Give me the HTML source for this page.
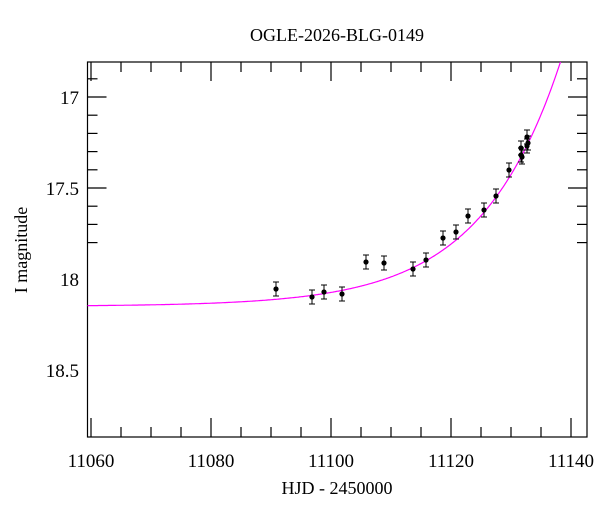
<!DOCTYPE html>
<html><head><meta charset="utf-8"><style>
body{margin:0;background:#fff;width:600px;height:512px;overflow:hidden}
text{font-family:"Liberation Serif",serif;fill:#000}
</style></head><body>
<svg id="s" width="600" height="512" xmlns="http://www.w3.org/2000/svg">
<text x="337" y="41" font-size="18" text-anchor="middle">OGLE-2026-BLG-0149</text>
<text x="337" y="494" font-size="18" text-anchor="middle">HJD - 2450000</text>
<text transform="translate(27,250) rotate(-90)" font-size="18" text-anchor="middle">I magnitude</text>
<g id="ax" stroke="#000" stroke-width="1.2" fill="none"></g>
<g font-size="19" text-anchor="middle">
<text x="91" y="467">11060</text><text x="211" y="467">11080</text><text x="331" y="467">11100</text><text x="451" y="467">11120</text><text x="571" y="467">11140</text>
</g>
<g font-size="19" text-anchor="end">
<text x="79" y="104">17</text><text x="79" y="195">17.5</text><text x="79" y="286">18</text><text x="79" y="377">18.5</text>
</g>
<polyline id="c" fill="none" stroke="#ff00ff" stroke-width="1.2"/>
<g id="d" stroke="#000" stroke-width="1"></g>
</svg>
<script>
var L=87.5,R=587,T=62,B=437;
function X(t){return 91+(t-11060)*6}
function Y(m){return 97+(m-17)*182}
var ax=document.getElementById('ax'),h='<rect x="'+L+'" y="'+T+'" width="'+(R-L)+'" height="'+(B-T)+'"/>';
for(var t=11060;t<=11142;t+=5){var x=X(t),l=(t%20==0)?19:10;h+='<line x1="'+x+'" y1="'+B+'" x2="'+x+'" y2="'+(B-l)+'"/><line x1="'+x+'" y1="'+T+'" x2="'+x+'" y2="'+(T+l)+'"/>';}
for(var i=9;i<=18;i++){var m=i/10+16,y=Y(m),l=(i%5==0)?19:10;h+='<line x1="'+L+'" y1="'+y+'" x2="'+(L+l)+'" y2="'+y+'"/><line x1="'+R+'" y1="'+y+'" x2="'+(R-l)+'" y2="'+y+'"/>';}
ax.innerHTML=h;
var p=[];for(var x=L;x<=570;x+=1){var t=11060+(x-91)/6;var m=18.15-0.6*Math.exp(0.075*(t-11127.5));var y=Y(m);if(y<T){p.push(x+','+T);break}p.push(x+','+y.toFixed(1));}
document.getElementById('c').setAttribute('points',p.join(' '));
var d=[[276,289],[312,297],[324,292],[342,294],[366,262],[384,263],[413,269],[426,260],[443,238],[456,232],[468,216],[484,210],[496,196],[509,170],[521,148],[521,155],[522,157],[527,137],[528,143],[527,146]],g='';
d.forEach(function(q){var x=q[0],y=q[1];g+='<line x1="'+x+'" y1="'+(y-7)+'" x2="'+x+'" y2="'+(y+7)+'"/><line x1="'+(x-3)+'" y1="'+(y-7)+'" x2="'+(x+3)+'" y2="'+(y-7)+'"/><line x1="'+(x-3)+'" y1="'+(y+7)+'" x2="'+(x+3)+'" y2="'+(y+7)+'"/><circle cx="'+x+'" cy="'+y+'" r="2.6" fill="#000" stroke="none"/>';});
document.getElementById('d').innerHTML=g;
</script>
</body></html>
